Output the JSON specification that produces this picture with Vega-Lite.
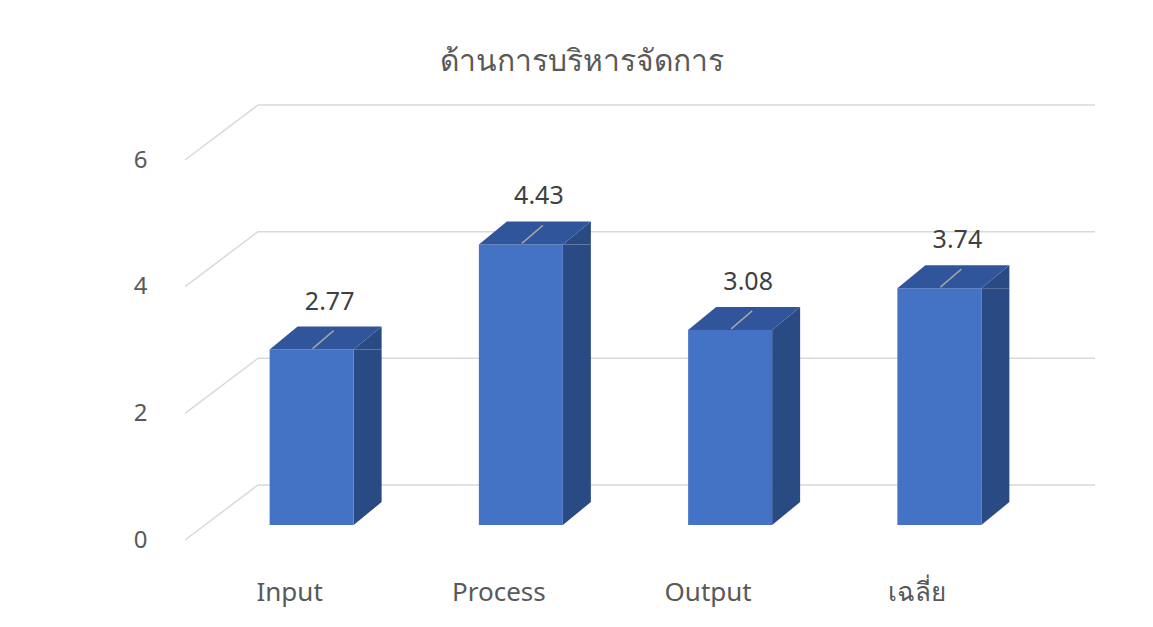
{
  "$schema": "https://vega.github.io/schema/vega-lite/v6.json",
  "autosize": {"type": "none"},
  "padding": {"left": 185, "top": 160, "right": 131, "bottom": 87},
  "width": 837,
  "height": 380,
  "background": "white",
  "title": {"text": "ด้านการบริหารจัดการ", "fontSize": 30, "fontWeight": "normal", "color": "#595959", "font": "Noto Sans", "anchor": "middle", "frame": "group", "dx": -22, "offset": 27},
  "config": {
    "view": {"stroke": null},
    "axis": {"domain": false, "ticks": false, "grid": false, "labelFont": "Noto Sans", "labelFontSize": 24, "labelColor": "#595959"},
    "axisX": {"labelPadding": 39, "labelAngle": 0, "labelFontSize": 26},
    "axisY": {"labelPadding": 38}
  },
  "data": {"values": [
    {"cat": "Input", "value": 2.77},
    {"cat": "Process", "value": 4.43},
    {"cat": "Output", "value": 3.08},
    {"cat": "เฉลี่ย", "value": 3.74}
  ]},
  "layer": [
    {
      "data": {"values": [{"v": 0}, {"v": 2}, {"v": 4}, {"v": 6}]},
      "mark": {"type": "rule", "color": "#D9D9D9", "strokeWidth": 1.5, "xOffset": 73, "x2Offset": 73, "yOffset": -55},
      "encoding": {
        "x": {"value": 0},
        "x2": {"value": 837},
        "y": {"field": "v", "type": "quantitative", "scale": {"domain": [0, 6]}, "title": null, "axis": {"values": [0, 2, 4, 6], "format": "d"}}
      }
    },
    {
      "data": {"values": [{"v": 0}, {"v": 2}, {"v": 4}, {"v": 6}]},
      "mark": {"type": "rule", "color": "#D9D9D9", "strokeWidth": 1.5, "x2Offset": 73, "y2Offset": -55},
      "encoding": {
        "x": {"value": 0},
        "x2": {"value": 0},
        "y": {"field": "v", "type": "quantitative", "scale": {"domain": [0, 6]}, "title": null, "axis": {"values": [0, 2, 4, 6], "format": "d"}},
        "y2": {"field": "v"}
      }
    },
    {
      "mark": {"type": "bar", "width": 28, "xOffset": 78, "yOffset": -15, "y2Offset": -38, "color": "#2A4A84"},
      "encoding": {
        "x": {"field": "cat", "type": "nominal", "sort": null, "scale": {"paddingInner": 0, "paddingOuter": 0}, "title": null},
        "y": {"field": "value", "type": "quantitative", "scale": {"domain": [0, 6]}, "title": null, "axis": {"values": [0, 2, 4, 6], "format": "d"}},
        "y2": {"datum": 0}
      }
    },
    {
      "mark": {"type": "point", "shape": "M42,0L70,-23L70,0Z", "size": 4, "filled": true, "opacity": 1, "strokeWidth": 0, "color": "#2A4A84", "xOffset": 22, "yOffset": -15},
      "encoding": {
        "x": {"field": "cat", "type": "nominal", "sort": null, "title": null},
        "y": {"field": "value", "type": "quantitative", "title": null}
      }
    },
    {
      "mark": {"type": "point", "shape": "M42,-23L42,0L70,-23Z", "size": 4, "filled": true, "opacity": 1, "strokeWidth": 0, "color": "#2A4A84", "xOffset": 22, "yOffset": -15},
      "encoding": {
        "x": {"field": "cat", "type": "nominal", "sort": null, "title": null},
        "y": {"datum": 0}
      }
    },
    {
      "mark": {"type": "bar", "width": 84, "xOffset": 22, "yOffset": -15, "y2Offset": -15, "color": "#4472C4"},
      "encoding": {
        "x": {"field": "cat", "type": "nominal", "sort": null, "title": null},
        "y": {"field": "value", "type": "quantitative", "title": null},
        "y2": {"datum": 0}
      }
    },
    {
      "mark": {"type": "point", "shape": "M-42,0L42,0L70,-23L-14,-23Z", "size": 4, "filled": true, "opacity": 1, "strokeWidth": 0, "color": "#30559A", "xOffset": 22, "yOffset": -15},
      "encoding": {
        "x": {"field": "cat", "type": "nominal", "sort": null, "title": null},
        "y": {"field": "value", "type": "quantitative", "title": null}
      }
    },
    {
      "mark": {"type": "point", "shape": "M1,-1L22,-19", "size": 4, "filled": false, "opacity": 1, "strokeWidth": 1.5, "stroke": "#A6A6A6", "xOffset": 22, "yOffset": -15},
      "encoding": {
        "x": {"field": "cat", "type": "nominal", "sort": null, "title": null},
        "y": {"field": "value", "type": "quantitative", "title": null}
      }
    },
    {
      "mark": {"type": "text", "font": "Noto Sans", "fontSize": 25, "color": "#404040", "baseline": "middle", "align": "center", "xOffset": 40, "yOffset": -63},
      "encoding": {
        "x": {"field": "cat", "type": "nominal", "sort": null, "title": null},
        "y": {"field": "value", "type": "quantitative", "title": null},
        "text": {"field": "value", "type": "quantitative", "format": ".2f"}
      }
    }
  ]
}
